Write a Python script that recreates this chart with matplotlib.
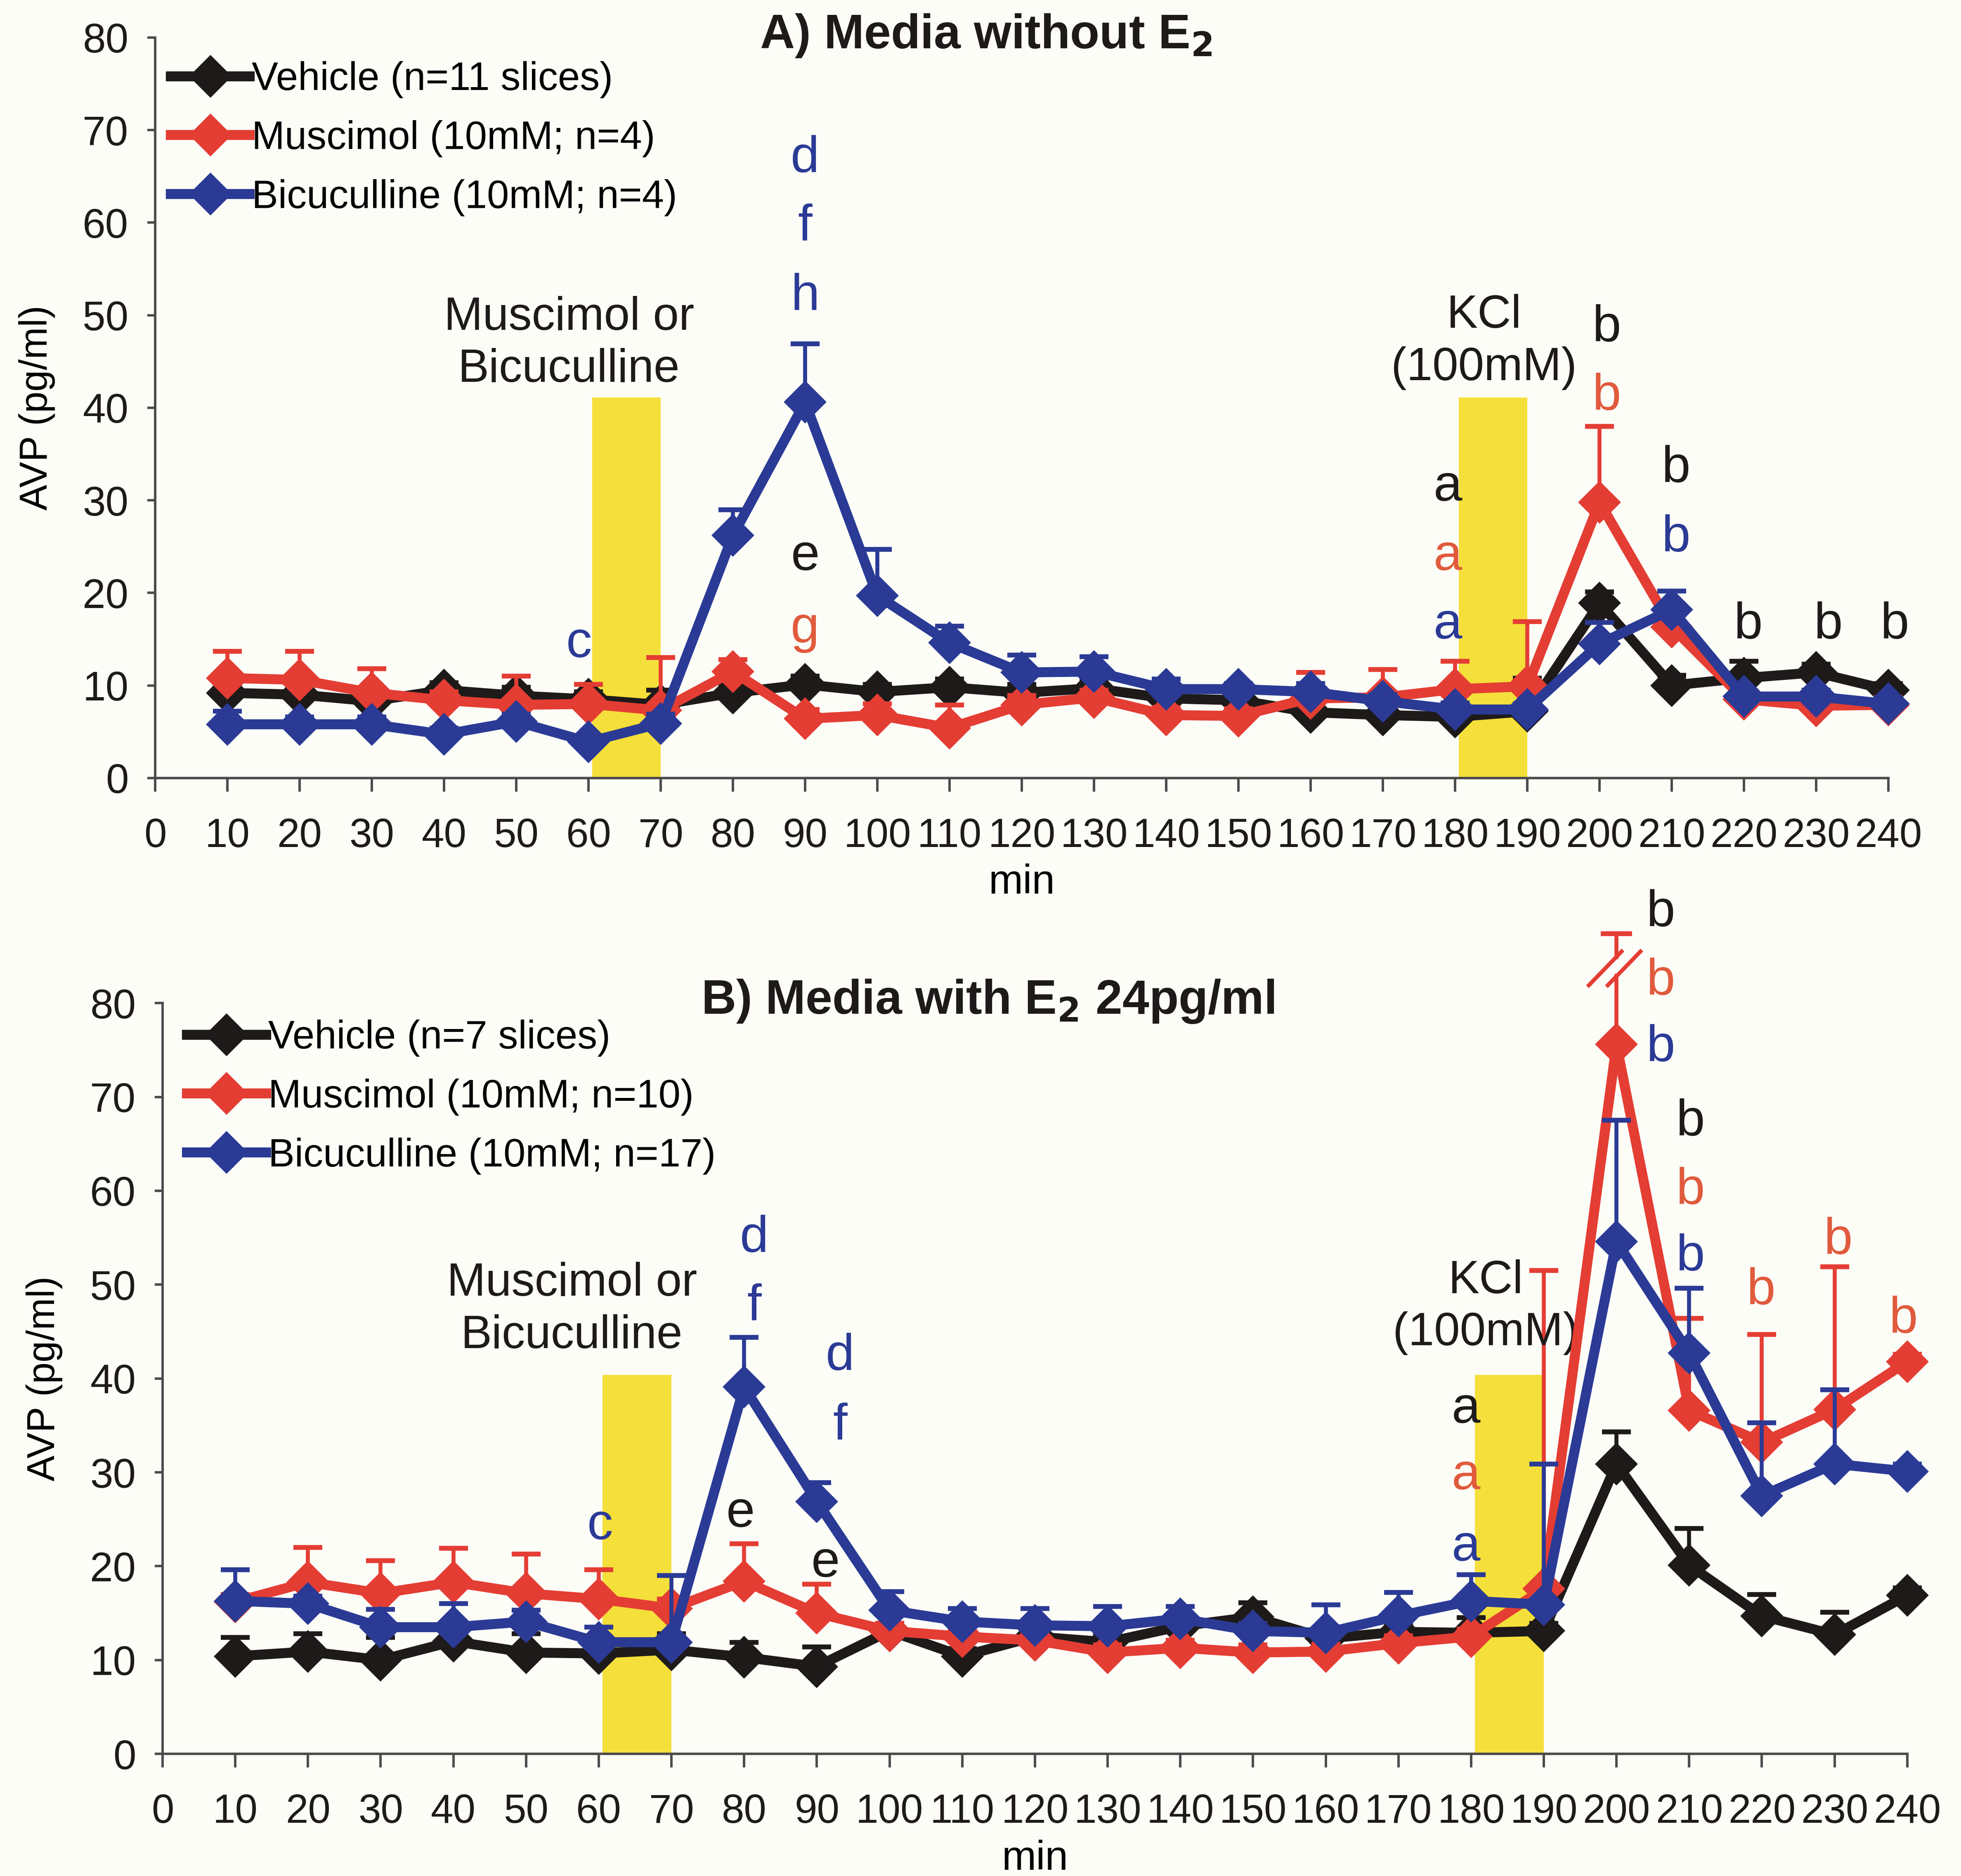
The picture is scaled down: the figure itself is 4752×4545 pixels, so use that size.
import matplotlib.pyplot as plt
import numpy as np

# narrow sans for ticks / legend, regular sans for letters
plt.rcParams['font.family'] = ['Liberation Sans Narrow', 'Liberation Sans', 'DejaVu Sans']
plt.rcParams['mathtext.fontset'] = 'custom'
plt.rcParams['mathtext.rm'] = 'Liberation Sans Narrow'
plt.rcParams['mathtext.bf'] = 'Liberation Sans Narrow:bold'

minutes = [10, 20, 30, 40, 50, 60, 70, 80, 90, 100, 110, 120,
           130, 140, 150, 160, 170, 180, 190, 200, 210, 220, 230, 240]
x_ticks = list(range(0, 250, 10))
y_ticks = list(range(0, 90, 10))

# ---- A) media without E2 : mean and SEM (pg/ml)
veh_a = [9.2, 9.0, 8.3, 9.5, 8.9, 8.5, 7.9, 9.2, 10.1, 9.3, 9.8, 9.2,
         9.7, 8.6, 8.4, 7.1, 6.8, 6.6, 7.2, 18.9, 10.0, 10.8, 11.4, 9.5]
veh_a_sem = [0.8, 0.8, 0.7, 0.8, 0.9, 0.8, 1.6, 1.0, 0.9, 0.8, 0.9, 0.9,
             0.9, 0.8, 0.7, 0.7, 0.6, 0.6, 3.6, 1.2, 1.1, 1.8, 0.9, 0.7]
mus_a = [10.8, 10.6, 9.2, 8.4, 7.9, 8.0, 7.3, 11.5, 6.4, 6.8, 5.4, 7.9,
         8.7, 6.8, 6.7, 8.6, 8.7, 9.6, 9.9, 29.8, 16.3, 8.5, 7.8, 7.9]
mus_a_sem = [2.9, 3.1, 2.6, 0.9, 3.1, 2.1, 5.7, 1.3, 1.0, 1.2, 2.5, 1.0,
             0.8, 0.8, 0.8, 2.8, 3.0, 3.0, 7.0, 8.2, 1.3, 0.8, 0.8, 0.8]
bic_a = [5.8, 5.8, 5.8, 4.7, 6.1, 3.9, 5.9, 26.2, 40.6, 19.7, 14.6, 11.4,
         11.5, 9.6, 9.6, 9.3, 8.3, 7.4, 7.4, 14.5, 18.2, 8.8, 8.8, 8.0]
bic_a_sem = [1.4, 0.8, 0.8, 0.7, 0.8, 0.6, 1.0, 2.8, 6.3, 5.0, 1.8, 1.9,
             1.6, 1.1, 0.6, 0.9, 0.7, 0.7, 0.6, 2.3, 2.0, 0.6, 0.7, 0.6]

# ---- B) media with E2 24pg/ml
veh_b = [10.4, 10.9, 10.0, 12.0, 10.8, 10.7, 11.1, 10.3, 9.3, 13.1, 10.4, 12.5,
         11.9, 13.6, 14.6, 12.3, 13.0, 12.9, 13.1, 30.9, 20.1, 14.7, 12.7, 16.9]
veh_b_sem = [2.0, 1.9, 2.4, 0.9, 2.0, 1.5, 1.7, 1.6, 2.1, 0.8, 0.8, 0.8,
             0.8, 0.8, 1.5, 0.8, 0.8, 1.6, 0.8, 3.4, 3.9, 2.3, 2.4, 0.8]
mus_b = [16.2, 18.3, 17.1, 18.3, 17.1, 16.5, 15.5, 18.4, 15.0, 13.1, 12.5, 12.1,
         10.8, 11.3, 10.8, 10.9, 11.8, 12.5, 17.6, 75.6, 36.6, 33.2, 36.7, 41.8]
mus_b_sem = [0.8, 3.7, 3.5, 3.6, 4.2, 3.1, 1.0, 4.0, 3.1, 0.8, 0.8, 0.8,
             0.8, 0.8, 0.8, 0.8, 0.8, 0.8, 33.9, 11.8, 9.8, 11.5, 15.2, 0.8]
bic_b = [16.3, 16.0, 13.5, 13.5, 14.1, 11.9, 11.9, 39.1, 26.9, 15.3, 14.1, 13.7,
         13.6, 14.4, 13.1, 12.9, 14.7, 16.3, 15.9, 54.6, 42.7, 27.5, 30.9, 30.1]
bic_b_sem = [3.3, 0.8, 1.9, 2.5, 1.2, 1.6, 7.1, 5.3, 2.0, 2.0, 1.4, 1.8,
             2.1, 1.3, 0.8, 3.0, 2.5, 2.8, 15.0, 12.9, 6.9, 7.8, 7.9, 0.8]

labels_a = ['Vehicle (n=11 slices)', 'Muscimol (10mM; n=4)', 'Bicuculline (10mM; n=4)']
labels_b = ['Vehicle (n=7 slices)', 'Muscimol (10mM; n=10)', 'Bicuculline (10mM; n=17)']

# drug / KCl application windows (min)
windows = [(60.5, 70.0), (180.5, 190.0)]

BLACK = '#1e1a1a'
RED = '#e43d33'
BLUE = '#2a3a95'
RED_TXT = '#e05a3c'
YELLOW = '#f5df3a'
BG = '#fdfdf8'

# significance letters: (x, y, letter, colour)
letters_a = [(90, 66.9, 'd', BLUE), (90, 59.5, 'f', BLUE), (90, 52.0, 'h', BLUE),
             (90, 23.9, 'e', BLACK), (90, 16.1, 'g', RED_TXT), (58.7, 14.5, 'c', BLUE),
             (179, 31.4, 'a', BLACK), (179, 23.9, 'a', RED_TXT), (179, 16.5, 'a', BLUE),
             (201, 48.6, 'b', BLACK), (201, 41.2, 'b', RED_TXT),
             (210.6, 33.4, 'b', BLACK), (210.6, 25.9, 'b', BLUE),
             (220.6, 16.5, 'b', BLACK), (231.7, 16.5, 'b', BLACK), (240.9, 16.5, 'b', BLACK)]
letters_b = [(81.4, 54.9, 'd', BLUE), (81.4, 47.6, 'f', BLUE),
             (93.2, 42.3, 'd', BLUE), (93.2, 34.9, 'f', BLUE),
             (79.5, 25.6, 'e', BLACK), (91.2, 20.3, 'e', BLACK), (60.2, 24.3, 'c', BLUE),
             (179.3, 36.7, 'a', BLACK), (179.3, 29.6, 'a', RED_TXT), (179.3, 22.0, 'a', BLUE),
             (206.1, 89.6, 'b', BLACK), (206.1, 82.3, 'b', RED_TXT), (206.1, 75.2, 'b', BLUE),
             (210.2, 67.3, 'b', BLACK), (210.2, 60.0, 'b', RED_TXT), (210.2, 52.9, 'b', BLUE),
             (219.9, 49.3, 'b', RED_TXT), (230.5, 54.7, 'b', RED_TXT), (239.5, 46.3, 'b', RED_TXT)]


def draw_panel(ax, series, labels, letters, title, title_x, win_top, legend_anchor,
               drug_txt, kcl_txt, broken=None):
    ax.set_facecolor('none')
    for x0, x1 in windows:
        ax.fill_between([x0, x1], 0, win_top, color=YELLOW, lw=0, zorder=1)

    colors = [BLACK, RED, BLUE]
    for k, (mean, sem) in enumerate(series):
        up = np.array(sem, dtype=float)
        if broken is not None and broken[0] == k:
            up[minutes.index(broken[1])] = 0
        ax.errorbar(minutes, mean, yerr=[np.zeros_like(up), up], fmt='none',
                    ecolor=colors[k], elinewidth=2.3, capsize=8.5, capthick=2.8,
                    zorder=2 + k, clip_on=False)
        ax.plot(minutes, mean, color=colors[k], lw=5.8, marker='D', ms=16.5,
                label=labels[k], zorder=2.5 + k, clip_on=False)

    # error bar running off the top of the axis, with a break mark
    if broken is not None:
        k, xb = broken
        mean, sem = series[k]
        i = minutes.index(xb)
        top = mean[i] + sem[i]
        kw = dict(color=RED, lw=2.3, clip_on=False, zorder=6)
        ax.plot([xb, xb], [mean[i], 82.9], **kw)
        ax.plot([xb, xb], [84.9, top], **kw)
        ax.plot([xb - 1.8, xb + 1.8], [top, top], color=RED, lw=2.8, clip_on=False, zorder=6)
        ax.plot([xb - 3.8, xb + 0.7], [81.9, 85.5], **kw)
        ax.plot([xb - 1.2, xb + 3.3], [81.9, 85.5], **kw)

    for x, y, s, c in letters:
        ax.text(x, y, s, color=c, fontsize=30, ha='center', va='center',
                family=['Liberation Sans', 'DejaVu Sans'], zorder=7)

    ax.text(drug_txt[0], drug_txt[1], 'Muscimol or\nBicuculline', fontsize=27,
            ha='center', va='center', linespacing=1.25, color=BLACK)
    ax.text(kcl_txt[0], kcl_txt[1], 'KCl\n(100mM)', fontsize=27,
            ha='center', va='center', linespacing=1.25, color=BLACK)
    ax.text(title_x, 80.2, title, fontsize=28, fontweight='bold', ha='center',
            va='center', color=BLACK)

    ax.set_xlim(0, 240)
    ax.set_ylim(0, 80)
    ax.set_xticks(x_ticks)
    ax.set_yticks(y_ticks)
    for side in ['top', 'right']:
        ax.spines[side].set_visible(False)
    for side in ['left', 'bottom']:
        ax.spines[side].set_color('#4a4a4a')
        ax.spines[side].set_linewidth(1.4)
    ax.tick_params(axis='x', direction='out', length=8, width=1.4, pad=15,
                   labelsize=23.5, colors='#4a4a4a', labelcolor=BLACK)
    ax.tick_params(axis='y', direction='out', length=4.5, width=1.4, pad=11,
                   labelsize=24, colors='#4a4a4a', labelcolor=BLACK)
    ax.set_xlabel('min', fontsize=24, labelpad=5)
    ax.set_ylabel('AVP (pg/ml)', fontsize=22.5, labelpad=16,
                  family=['Liberation Sans', 'DejaVu Sans'])

    ax.legend(loc='upper left', bbox_to_anchor=legend_anchor, frameon=False,
              fontsize=23, handlelength=2.0, handletextpad=0.05, labelspacing=0.55,
              borderpad=0, borderaxespad=0, numpoints=1)


fig = plt.figure(figsize=(15.84, 15.15), dpi=300, facecolor=BG)

ax1 = fig.add_axes([0.0791, 0.5853, 0.8839, 0.3947])
draw_panel(ax1, [(veh_a, veh_a_sem), (mus_a, mus_a_sem), (bic_a, bic_a_sem)], labels_a,
           letters_a, r'A) Media without E$_\mathbf{2}$', 115, 41.1, (0.009, 0.968),
           (57.3, 46.9), (184, 47.1))

ax2 = fig.add_axes([0.0829, 0.0651, 0.8897, 0.4002])
draw_panel(ax2, [(veh_b, veh_b_sem), (mus_b, mus_b_sem), (bic_b, bic_b_sem)], labels_b,
           letters_b, r'B) Media with E$_\mathbf{2}$ 24pg/ml', 113.5, 40.4, (0.014, 0.978),
           (56.3, 47.3), (182, 47.6), broken=(1, 200))

fig.savefig('out.png', dpi=300, facecolor=BG)
